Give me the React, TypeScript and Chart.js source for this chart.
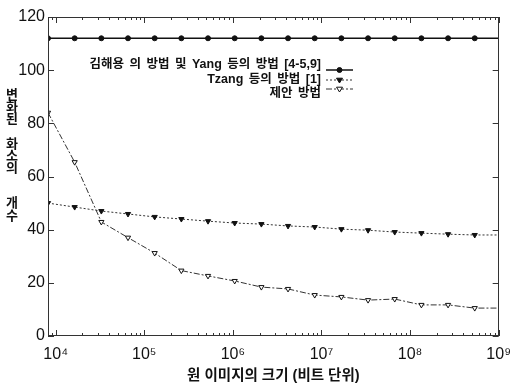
import React, { useEffect, useRef } from 'react';
import { Chart, registerables } from 'chart.js';

Chart.register(...registerables);

// Original image size in bits (2^13 ... 2^30; the last one lies past the axis and is clipped)
const imageSizes = [
  8192, 16384, 32768, 65536, 131072, 262144, 524288, 1048576, 2097152,
  4194304, 8388608, 16777216, 33554432, 67108864, 134217728, 268435456,
  536870912, 1073741824,
];

const kimYangValues = [
  112, 112, 112, 112, 112, 112, 112, 112, 112, 112, 112, 112, 112, 112, 112, 112, 112, 112,
];
const tzangValues = [
  50.0, 48.5, 47.0, 45.9, 44.8, 44.0, 43.2, 42.5, 42.1, 41.4, 41.0, 40.2, 39.8, 39.1, 38.7, 38.3, 38.0, 38.0,
];
const proposedValues = [
  84.0, 65.4, 42.9, 37.0, 31.2, 24.6, 22.6, 20.7, 18.4, 17.7, 15.4, 14.7, 13.5, 13.9, 11.7, 11.7, 10.5, 10.5,
];

const seriesLabels = [
  '김해용 의 방법 및 Yang 등의 방법 [4-5,9]',
  'Tzang 등의 방법 [1]',
  '제안 방법',
];

const xTickValues = [1e4, 1e5, 1e6, 1e7, 1e8, 1e9];
const xTickLabels = ['10⁴', '10⁵', '10⁶', '10⁷', '10⁸', '10⁹'];
const yTickStep = 20;
const yMin = 0;
const yMax = 120;
const xMin = 8192;
const xMax = 1e9;

const xTitle = '원 이미지의 크기 (비트 단위)';
const yTitleWords = ['변화된', '화소의', '개수'];

const LATIN = '"Liberation Sans", Arial, sans-serif';
const KFONT = '"Liberation Sans", "Noto Sans CJK KR", sans-serif';

const toPoints = (vals: number[]) => vals.map((v, i) => ({ x: imageSizes[i], y: v }));

function drawMarker(ctx: CanvasRenderingContext2D, style: string, x: number, y: number, r: number, fill: string) {
  ctx.beginPath();
  if (style === 'circle') {
    ctx.arc(x, y, r, 0, Math.PI * 2);
  } else {
    ctx.moveTo(x - r, y - r * 0.6);
    ctx.lineTo(x + r, y - r * 0.6);
    ctx.lineTo(x, y + r);
    ctx.closePath();
  }
  ctx.fillStyle = fill;
  ctx.fill();
  ctx.lineWidth = 1;
  ctx.strokeStyle = '#111';
  ctx.stroke();
}

const decorPlugin = {
  id: 'decor',
  afterDraw(chart: any) {
    const { ctx, chartArea: a, scales } = chart;
    const xs = scales.x;
    const ys = scales.y;
    ctx.save();
    // frame
    ctx.strokeStyle = '#333';
    ctx.lineWidth = 1;
    ctx.setLineDash([]);
    ctx.strokeRect(Math.round(a.left) + 0.5, Math.round(a.top) + 0.5, Math.round(a.width) - 1, Math.round(a.height) - 1);
    // y inward ticks
    ys.ticks.forEach((t: any) => {
      const py = Math.round(ys.getPixelForValue(t.value)) + 0.5;
      ctx.beginPath();
      ctx.moveTo(a.left, py);
      ctx.lineTo(a.left + 6, py);
      ctx.moveTo(a.right, py);
      ctx.lineTo(a.right - 6, py);
      ctx.stroke();
    });
    // x inward ticks (log major + minor)
    for (let d = 1e3; d <= 1e9; d *= 10) {
      for (let m = 1; m <= 9; m++) {
        const v = m * d;
        if (v < xMin || v > xMax) continue;
        const px = Math.round(xs.getPixelForValue(v)) + 0.5;
        const len = m === 1 ? 6 : 3;
        ctx.beginPath();
        ctx.moveTo(px, a.bottom);
        ctx.lineTo(px, a.bottom - len);
        ctx.moveTo(px, a.top);
        ctx.lineTo(px, a.top + len);
        ctx.stroke();
      }
    }
    // y title, stacked upright characters
    ctx.fillStyle = '#111';
    ctx.font = 'bold 13px "Noto Sans CJK KR", sans-serif';
    ctx.textAlign = 'center';
    ctx.textBaseline = 'middle';
    const groupStarts = [94, 143, 202];
    const pitches = [12, 12, 13];
    yTitleWords.forEach((w, gi) => {
      Array.from(w).forEach((ch, ci) => {
        ctx.fillText(ch, 12, groupStarts[gi] + ci * pitches[gi]);
      });
    });
    // legend
    const textY = [65, 80, 94];
    const lineY = [70, 80, 89];
    const textRight = 321;
    const s0 = 326;
    const s1 = 353;
    chart.data.datasets.forEach((ds: any, i: number) => {
      ctx.font = 'bold 12.5px ' + KFONT;
      (ctx as any).wordSpacing = '2px';
      ctx.textAlign = 'right';
      ctx.textBaseline = 'middle';
      ctx.fillStyle = '#111';
      ctx.fillText(ds.label, textRight, textY[i]);
      (ctx as any).wordSpacing = '0px';
      ctx.beginPath();
      ctx.setLineDash(ds.borderDash || []);
      ctx.strokeStyle = ds.borderColor;
      ctx.lineWidth = ds.borderWidth;
      ctx.moveTo(s0, lineY[i]);
      ctx.lineTo(s1, lineY[i]);
      ctx.stroke();
      ctx.setLineDash([]);
      drawMarker(ctx, i === 0 ? 'circle' : 'tri', (s0 + s1) / 2, lineY[i], i === 0 ? 2.5 : 3, ds.pointBackgroundColor);
    });
    ctx.restore();
  },
};

export default function App() {
  const ref = useRef<HTMLCanvasElement | null>(null);
  useEffect(() => {
    if (!ref.current) return;
    const chart = new Chart(ref.current, {
      type: 'line',
      data: {
        datasets: [
          {
            label: seriesLabels[0],
            data: toPoints(kimYangValues),
            borderColor: '#111',
            borderWidth: 1.5,
            pointStyle: 'circle',
            pointRadius: 2.5,
            pointBackgroundColor: '#111',
            pointBorderColor: '#111',
            pointBorderWidth: 1,
          },
          {
            label: seriesLabels[1],
            data: toPoints(tzangValues),
            borderColor: '#333',
            borderWidth: 1,
            borderDash: [2, 2],
            pointStyle: 'triangle',
            rotation: 180,
            pointRadius: 3,
            pointBackgroundColor: '#111',
            pointBorderColor: '#111',
            pointBorderWidth: 1,
          },
          {
            label: seriesLabels[2],
            data: toPoints(proposedValues),
            borderColor: '#333',
            borderWidth: 1,
            borderDash: [6, 2, 2, 2],
            pointStyle: 'triangle',
            rotation: 180,
            pointRadius: 3,
            pointBackgroundColor: '#fff',
            pointBorderColor: '#111',
            pointBorderWidth: 1,
          },
        ],
      },
      options: {
        animation: false,
        responsive: true,
        maintainAspectRatio: false,
        layout: { padding: { top: 17, right: 15, left: 0, bottom: 0 } },
        plugins: { legend: { display: false }, tooltip: { enabled: false } },
        elements: { line: { tension: 0 } },
        scales: {
          x: {
            type: 'logarithmic',
            min: xMin,
            max: xMax,
            grid: { display: false, drawTicks: false },
            border: { display: false },
            afterBuildTicks: (scale: any) => {
              scale.ticks = xTickValues.map((v) => ({ value: v }));
            },
            afterFit: (scale: any) => {
              scale.height = 50;
            },
            ticks: {
              autoSkip: false,
              maxRotation: 0,
              padding: 9,
              color: '#111',
              font: { family: LATIN, size: 16 },
              callback: (v: any) => {
                const idx = xTickValues.indexOf(Number(v));
                return idx >= 0 ? xTickLabels[idx] : '';
              },
            },
            title: {
              display: true,
              text: xTitle,
              color: '#111',
              font: { family: KFONT, size: 14.5, weight: 'bold' },
              padding: { top: 0, bottom: 1 },
            },
          },
          y: {
            min: yMin,
            max: yMax,
            grid: { display: false, drawTicks: false },
            border: { display: false },
            afterFit: (scale: any) => {
              scale.width = 48;
            },
            ticks: {
              stepSize: yTickStep,
              padding: 3,
              color: '#111',
              font: { family: LATIN, size: 16 },
            },
          },
        },
      },
      plugins: [decorPlugin],
    } as any);
    return () => chart.destroy();
  }, []);
  return (
    <div style={{ position: 'absolute', left: 0, top: 0, width: 520, height: 386, background: '#fff' }}>
      <canvas ref={ref} />
    </div>
  );
}
